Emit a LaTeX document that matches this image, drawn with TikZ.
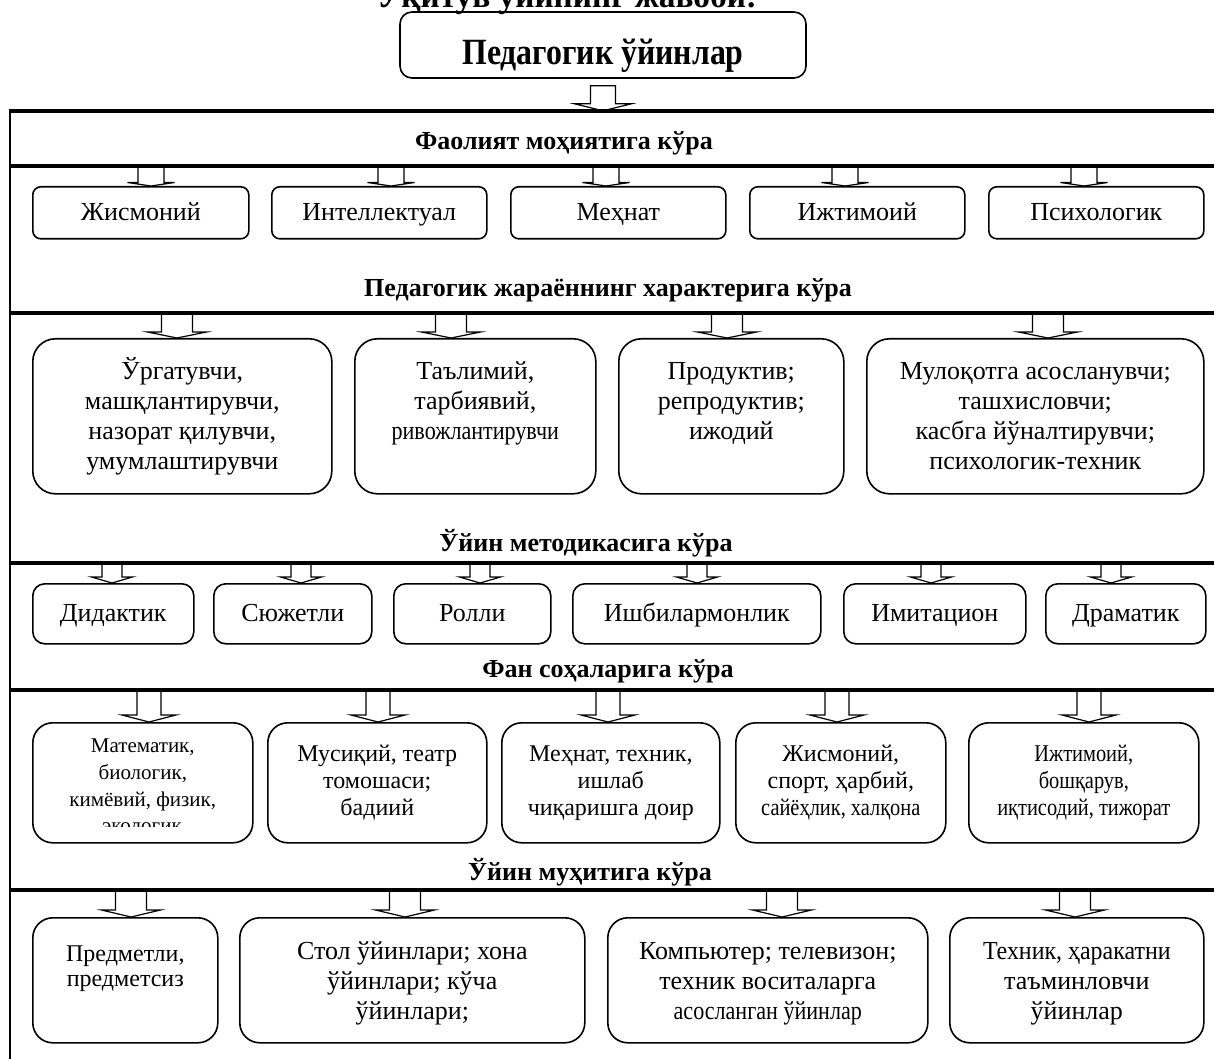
\documentclass[tikz,border=0pt]{standalone}
\usepackage{fontspec}
\setmainfont{Liberation Serif}
\usepackage{graphicx}
% hohler Blockpfeil: Spitze, halbe Schaftbreite, halbe Kopfbreite, Kopfhoehe, Gesamthoehe
\newcommand{\hohlpfeil}[5]{%
  \draw[hohl] (#1) -- ++(-#3,-#4) -- ++(#3-#2,0) -- ++(0,#4-#5) -- ++(2*#2,0) -- ++(0,#5-#4) -- ++(#3-#2,0) -- cycle;}
% Text oben im Kasten: x links, x rechts, Hoehe, Abstand, Text (alles in px)
\newcommand{\oben}[5]{\parbox[c][\dimexpr#3pt*3/4\relax][t]{\dimexpr(#2pt-#1pt)*3/4\relax}{\centering\vskip\dimexpr#4pt*3/4\relax\prevdepth=0pt #5\par}}
\newcommand{\schmal}[1]{\scalebox{0.85}[1]{#1}}

\begin{document}
\begin{tikzpicture}[x=0.75pt, y=-0.75pt,
	feld/.style={draw, line width=1.2pt, inner sep=0pt, anchor=north west},
	zeile/.style={text height=15pt, text depth=3pt},
	hohl/.style={draw, fill=white, line width=0.9pt},
	linie/.style={line width=2.4pt},
	kopf/.style={font=\bfseries\fontsize{19.5}{22.5}\selectfont, anchor=base, inner sep=0pt},
	font=\fontsize{19.5}{22.5}\selectfont]
	\useasboundingbox (0,0) rectangle (1214,1059);
	% Ueberschrift (oben abgeschnitten)
	\node[anchor=base, font=\bfseries\fontsize{25}{30}\selectfont] (ueber) at (567,8) {Ўқитув ўйининг жавоби:};
	% Hauptkasten
	\node[draw, line width=1.2pt, rounded corners=9pt, minimum width=304.5pt, minimum height=49.5pt,
		text height=30pt, text depth=0pt, font=\bfseries\fontsize{27.75}{32}\selectfont] (haupt) at (603,45) {\scalebox{0.86}[1]{Педагогик ўйинлар}};
	\hohlpfeil{[yshift=-24pt]haupt.south}{12.5}{28.5}{7}{25}
	% Zeile 1
	\node[kopf] (k1) at (564,150) {Фаолият моҳиятига кўра};
	\foreach \xa/\xb/\ax/\txt [count=\i] in {32/248/151/Жисмоний, 271/486/391/Интеллектуал,
		510/725/606/Меҳнат, 749/964/845/Ижтимоий, 988/1203/1084/Психологик}{
		\node[feld, zeile, rounded corners=6pt, minimum width={(\xb-\xa)*0.75pt}, minimum height=39pt] (a\i) at (\xa,186) {\txt};
		\hohlpfeil{\ax,0 |- a\i.north}{13}{23.5}{3.5}{19}
	}
	% Zeile 2
	\node[kopf] (k2) at (608,297) {Педагогик жараённинг характерига кўра};
	\foreach \xa/\xb/\ax/\txt [count=\i] in {
		32/331/177/{Ўргатувчи,\\ машқлантирувчи,\\ назорат қилувчи,\\ умумлаштирувчи},
		354/595/451/{Таълимий,\\ тарбиявий,\\ \schmal{ривожлантирувчи}},
		618/843/727/{Продуктив;\\ репродуктив;\\ ижодий},
		866/1203/1048/{Мулоқотга асосланувчи;\\ ташхисловчи;\\ касбга йўналтирувчи;\\ психологик-техник}}{
		\node[feld, rounded corners=17pt] (b\i) at (\xa,338) {\oben{\xa}{\xb}{155}{11}{\txt}};
		\hohlpfeil{\ax,0 |- b\i.north}{15.5}{29.5}{6}{25}
	}
	% Zeile 3
	\node[kopf] (k3) at (586,551) {Ўйин методикасига кўра};
	\foreach \xa/\xb/\ax/\txt [count=\i] in {32/193/112/Дидактик, 213/371/301/Сюжетли, 393/550/480/Ролли,
		572/820/697/Ишбилармонлик, 843/1025/931/Имитацион, 1045/1205/1111/Драматик}{
		\node[feld, zeile, rounded corners=9pt, minimum width={(\xb-\xa)*0.75pt}, minimum height=45pt] (c\i) at (\xa,583) {\txt};
		\hohlpfeil{\ax,0 |- c\i.north}{10}{20.5}{6}{20}
	}
	% Zeile 4
	\node[kopf] (k4) at (608,677) {Фан соҳаларига кўра};
	\foreach \xa/\xb/\ax/\pad/\txt [count=\i] in {
		32/252/149/3/{\fontsize{15.75}{20.25}\selectfont Математик,\\ биологик,\\ кимёвий, физик,\endgraf},
		267/486/378/12/{Мусиқий, театр\\ томошаси;\\ бадиий},
		501/719/608/12/{Меҳнат, техник,\\ ишлаб\\ чиқаришга доир},
		735/945/837/12/{Жисмоний,\\ спорт, ҳарбий,\\ \schmal{сайёҳлик, халқона}},
		968/1198/1089/12/{\schmal{Ижтимоий,}\\ \schmal{бошқарув,}\\ \schmal{иқтисодий, тижорат}}}{
		\node[feld, rounded corners=15pt, font=\fontsize{18}{20.25}\selectfont] (d\i) at (\xa,722) {\oben{\xa}{\xb}{120}{\pad}{\txt}};
		\hohlpfeil{\ax,0 |- d\i.north}{12}{27}{7}{32}
	}
	\begin{scope}
		\clip (32,722) rectangle (252,826);
		\node[anchor=base, font=\fontsize{15.75}{20.25}\selectfont] (eko) at (142,832) {экологик};
	\end{scope}
	% Zeile 5
	\node[kopf] (k5) at (590,880) {Ўйин муҳитига кўра};
	\foreach \xa/\xb/\ax/\pad/\txt [count=\i] in {
		32/217/131/19/{\fontsize{18}{18.75}\selectfont Предметли,\\ предметсиз\endgraf},
		239/584/405/12/{Стол ўйинлари; хона\\ ўйинлари; кўча\\ ўйинлари;},
		607/927/782/12/{Компьютер; телевизон;\\ техник воситаларга\\ \schmal{асосланган ўйинлар}},
		949/1203/1075/12/{\scalebox{0.92}[1]{Техник, ҳаракатни}\\ таъминловчи\\ ўйинлар}}{
		\node[feld, rounded corners=15pt] (e\i) at (\xa,917) {\oben{\xa}{\xb}{125}{\pad}{\txt}};
		\hohlpfeil{\ax,0 |- e\i.north}{15.5}{29.5}{7}{27}
	}
	% Rahmen und Trennlinien
	\draw[line width=1.5pt] (10,1059) -- (10,111);
	\draw[linie] (9,111) -- (1214,111);
	\foreach \y in {166,313,563,690,890} \draw[linie] (10,\y) -- (1214,\y);
\end{tikzpicture}
\end{document}
